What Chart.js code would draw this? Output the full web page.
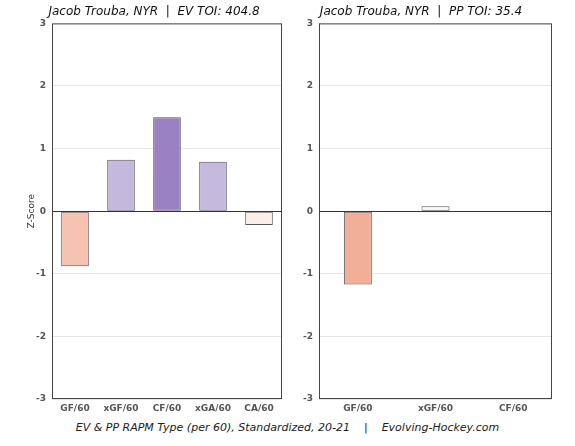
<!DOCTYPE html>
<html>
<head>
<meta charset="utf-8">
<script src="https://cdn.jsdelivr.net/npm/chart.js@4"></script>
<style>
  body { margin: 0; background: #fff; width: 575px; height: 446px; position: relative; overflow: hidden; font-family: "DejaVu Sans", sans-serif; }
  .box { position: absolute; top: 0; height: 420px; }
  #caption { position: absolute; left: 0; width: 575px; top: 421px; text-align: center; font-style: italic; font-size: 11px; color: #222; white-space: pre; }
</style>
</head>
<body>
<div class="box" style="left:0;width:290px"><canvas id="evChart"></canvas></div>
<div class="box" style="left:290px;width:270px"><canvas id="ppChart"></canvas></div>
<div id="caption">EV &amp; PP RAPM Type (per 60), Standardized, 20-21    |    Evolving-Hockey.com</div>
<script>
// EV data
const evLabels = ['GF/60', 'xGF/60', 'CF/60', 'xGA/60', 'CA/60'];
const evValues = [-0.88, 0.82, 1.50, 0.79, -0.22];
const evColors = ['#f7c3b1', '#c4b8dc', '#9a81c3', '#c5b9dd', '#faeee9'];

// PP data
const ppLabels = ['GF/60', 'xGF/60', 'CF/60'];
const ppValues = [-1.17, 0.08, -0.01];
const ppColors = ['#f1af98', '#fbf9fb', '#f5f0f2'];

const yTicks = [-3, -2, -1, 0, 1, 2, 3];

// frame around the plot area
const framePlugin = {
    id: 'frame',
    afterDraw(chart) {
        const a = chart.chartArea, ctx = chart.ctx;
        ctx.save();
        ctx.strokeStyle = '#444';
        ctx.lineWidth = 1;
        ctx.strokeRect(a.left + 0.5, a.top + 0.5, a.width - 1, a.height - 1);
        ctx.restore();
    }
};

function makeChart(id, title, labels, values, colors, padLeft, yWidth, barPct, showYTitle) {
    const ctx = document.getElementById(id).getContext('2d');
    return new Chart(ctx, {
        type: 'bar',
        data: {
            labels: labels,
            datasets: [{
                data: values,
                backgroundColor: colors,
                borderColor: '#555',
                borderWidth: 1,
                borderSkipped: false,
                barPercentage: barPct,
                categoryPercentage: 1
            }]
        },
        options: {
            responsive: true,
            maintainAspectRatio: false,
            animation: false,
            layout: { padding: { left: padLeft, right: 8, top: 0 } },
            plugins: {
                legend: { display: false },
                tooltip: { enabled: false },
                title: {
                    display: true,
                    text: title,
                    color: '#111',
                    font: { family: 'DejaVu Sans', size: 12, style: 'italic', weight: 'normal' },
                    padding: { top: 5, bottom: 4 }
                }
            },
            scales: {
                x: {
                    grid: { display: false, drawTicks: false, tickLength: 0 },
                    border: { display: false },
                    ticks: { color: '#555', padding: 4, font: { family: 'DejaVu Sans', size: 9, weight: 'bold' }, maxRotation: 0 },
                    afterFit(s) { s.height = 21; }
                },
                y: {
                    min: -3, max: 3,
                    afterBuildTicks(s) { s.ticks = yTicks.map(v => ({ value: v })); },
                    afterFit(s) { s.width = yWidth; },
                    border: { display: false },
                    grid: {
                        color: c => c.tick.value === 0 ? '#333' : '#e6e6e6',
                        drawTicks: false
                    },
                    ticks: { color: '#555', padding: 6, font: { family: 'DejaVu Sans', size: 9, weight: 'bold' } },
                    title: {
                        display: showYTitle,
                        text: 'Z-Score',
                        color: '#333',
                        font: { family: 'DejaVu Sans', size: 9 },
                        padding: 0
                    }
                }
            }
        },
        plugins: [framePlugin]
    });
}

makeChart('evChart', 'Jacob Trouba, NYR  |  EV TOI: 404.8', evLabels, evValues, evColors, 26, 26, 0.6, true);
makeChart('ppChart', 'Jacob Trouba, NYR  |  PP TOI: 35.4', ppLabels, ppValues, ppColors, 0, 29, 0.36, false);
</script>
</body>
</html>
